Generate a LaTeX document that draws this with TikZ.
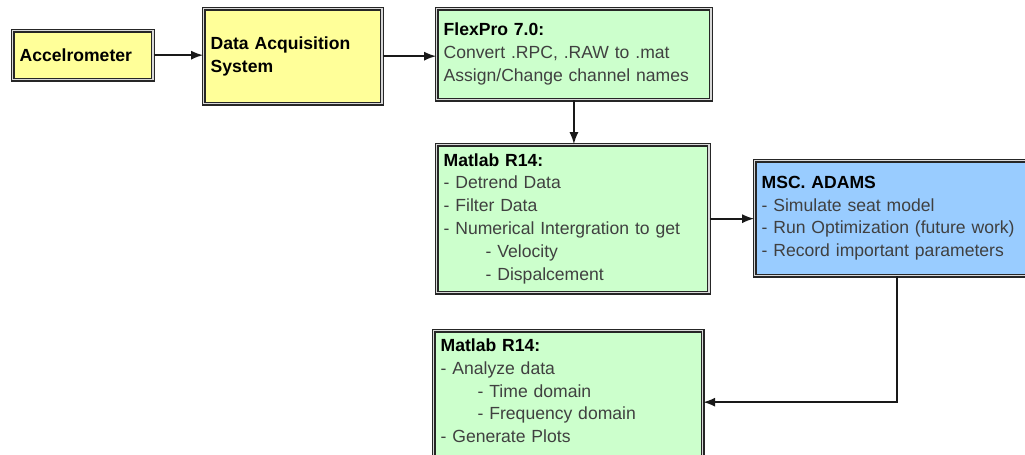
\documentclass[tikz,border=0pt]{standalone}
\usepackage{fontspec}
\setmainfont{Liberation Sans}
\definecolor{accyellow}{HTML}{FFFF99}
\definecolor{procgreen}{HTML}{CCFFCC}
\definecolor{simblue}{HTML}{99CCFF}
\newcommand{\boxtitle}[1]{\textcolor{black}{\textbf{#1}}}
\newcommand{\stepindent}{\hspace*{0.84cm}}
\tikzset{
  box/.style={draw=black!85, line width=0.75pt, double=gray!30, double distance=0.8pt,
    anchor=north west, align=left, inner xsep=0.14cm, inner ysep=0pt,
    font=\fontsize{10}{13}\selectfont, text=black!75},
  yellowbox/.style={box, fill=accyellow},
  greenbox/.style={box, fill=procgreen},
  bluebox/.style={box, fill=simblue},
  flow/.style={-latex, line width=1.3pt, black!90}
}
\begin{document}
\begin{tikzpicture}
\useasboundingbox (0,0) rectangle (20.5,-9.08);
\clip (0,0) rectangle (20.5,-9.08);
% sensor chain
\node[yellowbox, minimum width=2.81cm, text width=2.53cm, minimum height=0.98cm] (acc) at (0.24,-0.60) {\boxtitle{Accelrometer}};
\node[yellowbox, minimum width=3.57cm, text width=3.29cm, minimum height=1.90cm] (das) at (4.06,-0.16) {\boxtitle{Data Acquisition}\\\boxtitle{System}};
\node[greenbox, minimum width=5.49cm, text width=5.21cm, minimum height=1.82cm] (flex) at (8.72,-0.16) {\boxtitle{FlexPro 7.0:}\\Convert .RPC, .RAW to .mat\\Assign/Change channel names};
% processing
\node[greenbox, minimum width=5.45cm, text width=5.17cm, minimum height=2.96cm] (mat1) at (8.72,-2.88) {\boxtitle{Matlab R14:}\\- Detrend Data\\- Filter Data\\- Numerical Intergration to get\\\stepindent- Velocity\\\stepindent- Dispalcement};
\node[bluebox, minimum width=5.70cm, text width=5.42cm, minimum height=2.30cm] (adams) at (15.08,-3.20) {\boxtitle{MSC. ADAMS}\\- Simulate seat model\\- Run Optimization (future work)\\- Record important parameters};
\node[greenbox, minimum width=5.38cm, text width=5.10cm, minimum height=2.86cm] (mat2) at (8.66,-6.60) {\boxtitle{Matlab R14:}\\- Analyze data\\\hspace*{0.74cm}- Time domain\\\hspace*{0.74cm}- Frequency domain\\- Generate Plots\\~};
% connectors
\draw [flow] (acc.east) -- (acc.east -| das.west);
\draw [flow] (das.east) -- (das.east -| flex.west);
\draw [flow] (flex.south) -- (flex.south |- mat1.north);
\draw [flow] (mat1.east) -- (mat1.east -| adams.west);
\draw [flow] (adams.south) |- (mat2.east);
\end{tikzpicture}
\end{document}
